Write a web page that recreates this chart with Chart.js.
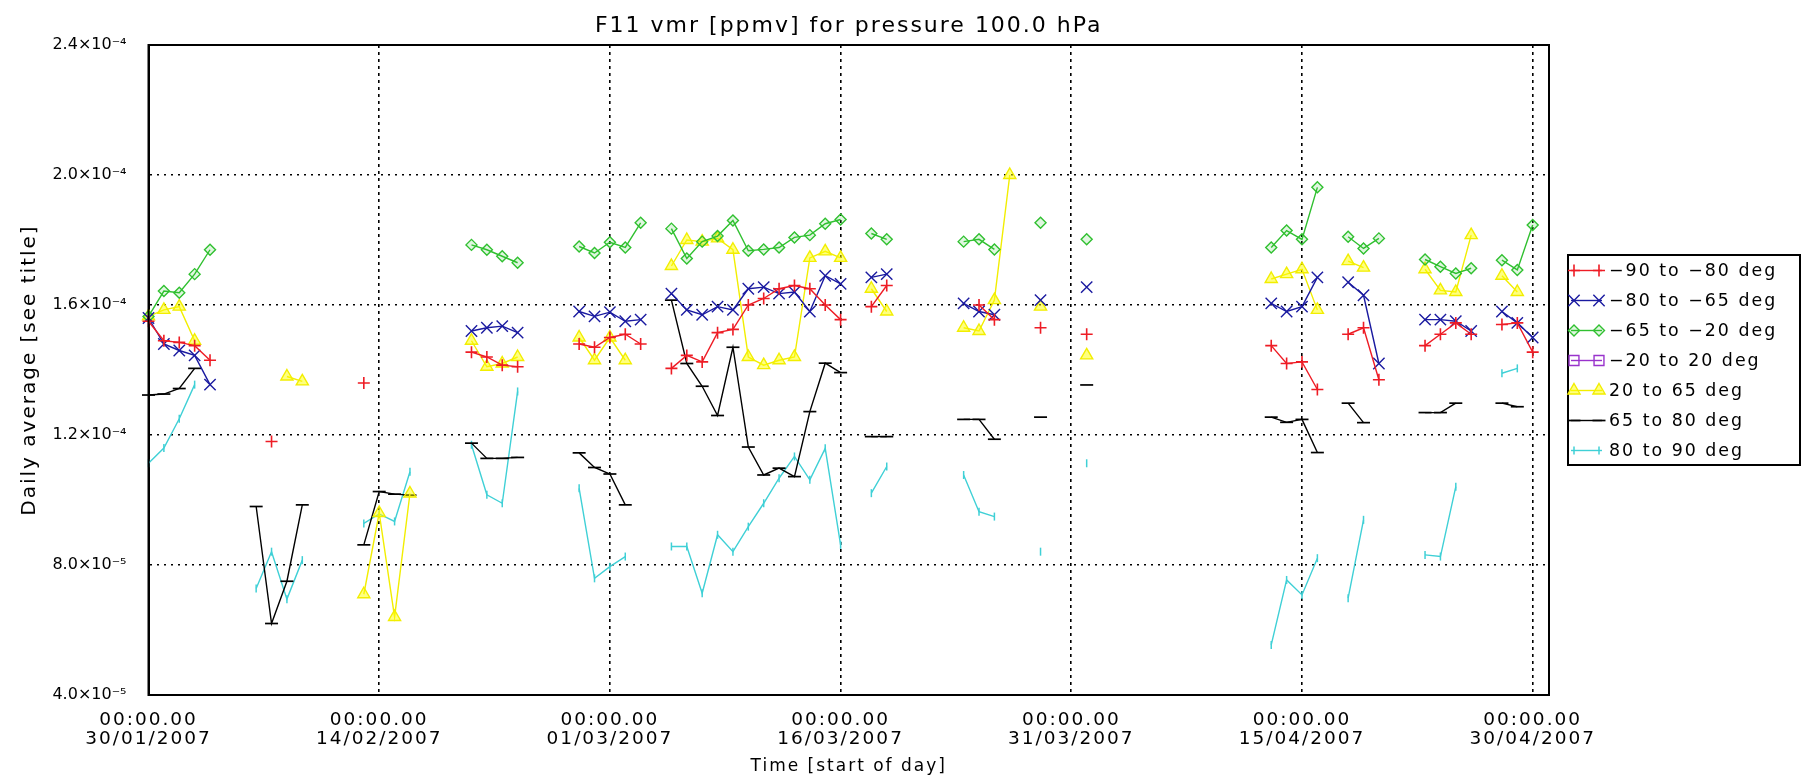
<!DOCTYPE html>
<html><head><meta charset="utf-8">
<script src="https://cdn.jsdelivr.net/npm/chart.js@4.4.0/dist/chart.umd.min.js"></script>
<style>html,body{margin:0;padding:0;background:#fff;overflow:hidden}#wrap{width:1801px;height:782px}</style>
</head><body><div id="wrap"><canvas id="c" width="1801" height="782"></canvas></div>
<script>
// ---- text ----
const titleText = 'F11 vmr [ppmv] for pressure 100.0 hPa';
const yAxisTitle = 'Daily average [see title]';
const xAxisTitle = 'Time [start of day]';
// ---- axes (x: days since 30/01/2007, y: in units of 1e-4 ppmv) ----
const xTickDays = [0, 15, 30, 45, 60, 75, 90];
const xTickLabels = [
  ['00:00.00', '30/01/2007'], ['00:00.00', '14/02/2007'], ['00:00.00', '01/03/2007'],
  ['00:00.00', '16/03/2007'], ['00:00.00', '31/03/2007'], ['00:00.00', '15/04/2007'],
  ['00:00.00', '30/04/2007']
];
const yTickValues = [0.4, 0.8, 1.2, 1.6, 2.0, 2.4];
const yTickLabels = ['4.0×10⁻⁵', '8.0×10⁻⁵', '1.2×10⁻⁴', '1.6×10⁻⁴', '2.0×10⁻⁴', '2.4×10⁻⁴'];
const seriesNames = ['−90 to −80 deg', '−80 to −65 deg', '−65 to −20 deg', '−20 to 20 deg', '20 to 65 deg', '65 to 80 deg', '80 to 90 deg'];

// ---- series: day index + daily average (×1e-4) ----
const daysS90S80 = [0,1,2,3,4, 8, 14, 21,22,23,24, 28,29,30,31,32, 34,35,36,37,38,39,40,41,42,43,44,45, 47,48, 54,55, 58, 61, 73,74,75,76, 78,79,80, 83,84,85,86, 88,89,90];
const valsS90S80 = [1.55,1.49,1.485,1.475,1.43, 1.18, 1.36, 1.455,1.44,1.415,1.41, 1.48,1.47,1.50,1.51,1.48, 1.405,1.445,1.425,1.515,1.525,1.60,1.62,1.65,1.66,1.65,1.60,1.555, 1.595,1.66, 1.60,1.555, 1.53, 1.51, 1.475,1.42,1.425,1.34, 1.51,1.53,1.37, 1.475,1.51,1.545,1.51, 1.54,1.545,1.455];

const daysS80S65 = [0,1,2,3,4, 21,22,23,24, 28,29,30,31,32, 34,35,36,37,38,39,40,41,42,43,44,45, 47,48, 53,54,55, 58, 61, 73,74,75,76, 78,79,80, 83,84,85,86, 88,89,90];
const valsS80S65 = [1.56,1.48,1.46,1.445,1.355, 1.52,1.53,1.535,1.515, 1.58,1.565,1.578,1.55,1.555, 1.635,1.585,1.57,1.595,1.585,1.65,1.655,1.635,1.64,1.58,1.69,1.665, 1.685,1.695, 1.605,1.58,1.57, 1.615, 1.655, 1.605,1.58,1.595,1.685, 1.67,1.63,1.42, 1.555,1.555,1.55,1.52, 1.58,1.545,1.50];

const daysS65S20 = [0,1,2,3,4, 21,22,23,24, 28,29,30,31,32, 34,35,36,37,38,39,40,41,42,43,44,45, 47,48, 53,54,55, 58, 61, 73,74,75,76, 78,79,80, 83,84,85,86, 88,89,90];
const valsS65S20 = [1.565,1.643,1.638,1.695,1.77, 1.785,1.77,1.75,1.73, 1.78,1.76,1.793,1.777,1.853, 1.835,1.743,1.795,1.812,1.86,1.767,1.771,1.777,1.808,1.815,1.85,1.863, 1.82,1.802, 1.795,1.802,1.771, 1.853, 1.802, 1.777,1.829,1.802,1.962, 1.81,1.774,1.805, 1.74,1.718,1.697,1.713, 1.738,1.708,1.846];

const daysS20N20 = [];
const valsS20N20 = [];

const daysN20N65 = [0,1,2,3, 9,10, 14,15,16,17, 21,22,23,24, 28,29,30,31, 34,35,36,37,38,39,40,41,42,43,44,45, 47,48, 53,54,55,56, 58, 61, 73,74,75,76, 78,79, 83,84,85,86, 88,89];
const valsN20N65 = [1.565,1.585,1.595,1.49, 1.38,1.365, 0.71,0.96,0.64,1.02, 1.49,1.41,1.42,1.44, 1.50,1.43,1.50,1.43, 1.72,1.80,1.795,1.805,1.77,1.44,1.415,1.43,1.44,1.745,1.765,1.745, 1.65,1.58, 1.53,1.52,1.615,2.00, 1.595, 1.445, 1.68,1.695,1.71,1.585, 1.735,1.715, 1.71,1.645,1.64,1.815, 1.69,1.64];

const daysN65N80 = [0,1,2,3, 7,8,9,10, 14,15,16,17, 21,22,23,24, 28,29,30,31, 34,35,36,37,38,39,40,41,42,43,44,45, 47,48, 53,54,55, 58, 61, 73,74,75,76, 78,79, 83,84,85, 88,89];
const valsN65N80 = [1.323,1.326,1.343,1.405, 0.98,0.62,0.75,0.985, 0.862,1.026,1.018,1.015, 1.175,1.128,1.128,1.131, 1.145,1.10,1.08,0.985, 1.615,1.42,1.35,1.26,1.47,1.163,1.077,1.098,1.072,1.272,1.421,1.392, 1.195,1.195, 1.248,1.248,1.187, 1.255, 1.354, 1.255,1.239,1.248,1.146, 1.298,1.238, 1.269,1.269,1.298, 1.298,1.287];

const daysN80N90 = [0,1,2,3, 7,8,9,10, 14,15,16,17, 21,22,23,24, 28,29,30,31, 34,35,36,37,38,39,40,41,42,43,44,45, 47,48, 53,54,55, 58, 61, 73,74,75,76, 78,79, 83,84,85, 88,89];
const valsN80N90 = [1.113,1.16,1.25,1.355, 0.728,0.841,0.695,0.815, 0.928,0.957,0.934,1.087, 1.17,1.016,0.99,1.334, 1.036,0.759,0.795,0.826, 0.857,0.857,0.713,0.893,0.841,0.918,0.99,1.067,1.134,1.062,1.159,0.862, 1.021,1.103, 1.077,0.964,0.949, 0.841, 1.113, 0.554,0.754,0.708,0.821, 0.698,0.939, 0.831,0.826,1.041, 1.39,1.405];

// ---- build points, breaking the line where days are missing ----
function toPoints(days, vals) {
  const pts = [];
  days.forEach((d, i) => {
    if (i > 0 && d - days[i - 1] > 1) pts.push({x: (d + days[i - 1]) / 2, y: null});
    pts.push({x: d, y: vals[i]});
  });
  return pts;
}

const FONT = '"DejaVu Sans", sans-serif';
const styles = [
  {color: '#ee1c25', fill: 'rgba(0,0,0,0)', style: 'cross', r: 6, bw: 1.6, rot: 0},
  {color: '#1a1aa0', fill: 'rgba(0,0,0,0)', style: 'crossRot', r: 8, bw: 1.4, rot: 0},
  {color: '#30c030', fill: 'rgba(48,192,48,0.15)', style: 'rectRot', r: 5.5, bw: 1.4, rot: 0},
  {color: '#9933cc', fill: 'rgba(0,0,0,0)', style: 'rect', r: 7, bw: 1.4, rot: 0},
  {color: '#f2ee00', fill: 'rgba(255,255,0,0.5)', style: 'triangle', r: 7, bw: 1.4, rot: 0},
  {color: '#000000', fill: 'rgba(0,0,0,0)', style: 'line', r: 6.5, bw: 1.7, rot: 0},
  {color: '#3fd0d6', fill: 'rgba(0,0,0,0)', style: 'line', r: 4, bw: 1.5, rot: 90}
];
const seriesDays = [daysS90S80, daysS80S65, daysS65S20, daysS20N20, daysN20N65, daysN65N80, daysN80N90];
const seriesVals = [valsS90S80, valsS80S65, valsS65S20, valsS20N20, valsN20N65, valsN65N80, valsN80N90];

const datasets = seriesNames.map((name, i) => ({
  label: name,
  data: toPoints(seriesDays[i], seriesVals[i]),
  borderColor: styles[i].color,
  backgroundColor: styles[i].fill,
  borderWidth: 1.4,
  pointStyle: styles[i].style,
  pointRadius: styles[i].r,
  pointRotation: styles[i].rot,
  pointBorderWidth: styles[i].bw,
  pointBorderColor: styles[i].color,
  pointBackgroundColor: styles[i].fill,
  tension: 0,
  spanGaps: false,
  fill: false,
  clip: false
}));

const spacingPlugin = {
  id: 'spacing',
  beforeDraw(chart) { chart.ctx.letterSpacing = '2px'; },
  afterDatasetsDraw(chart) { chart.ctx.letterSpacing = '0px'; }
};

const framePlugin = {
  id: 'frameLegend',
  afterDraw(chart) {
    const ctx = chart.ctx, a = chart.chartArea;
    ctx.save();
    ctx.setLineDash([]);
    ctx.strokeStyle = '#000';
    ctx.lineWidth = 2;
    ctx.strokeRect(a.left, a.top, a.right - a.left, a.bottom - a.top);
    // legend box
    const lx = a.right + 19, ly = 255, lw = chart.width - lx - 1, rowH = 30;
    ctx.strokeRect(lx, ly, lw, rowH * chart.data.datasets.length);
    ctx.letterSpacing = '2px';
    // size legend text so the longest label spans ~168px like the reference
    ctx.font = '20px ' + FONT;
    const w = ctx.measureText(chart.data.datasets[0].label).width;
    const n = chart.data.datasets[0].label.length;
    const size = Math.max(12, Math.min(22, 20 * (168 - 2 * n) / Math.max(1, w - 2 * n)));
    ctx.font = size.toFixed(1) + 'px ' + FONT;
    ctx.textBaseline = 'middle';
    ctx.textAlign = 'left';
    chart.data.datasets.forEach((ds, i) => {
      const y = ly + 15.5 + rowH * i;
      ctx.strokeStyle = ds.borderColor;
      ctx.lineWidth = ds.borderWidth;
      ctx.beginPath(); ctx.moveTo(lx + 3, y); ctx.lineTo(lx + 34, y); ctx.stroke();
      ctx.fillStyle = ds.pointBackgroundColor;
      ctx.strokeStyle = ds.pointBorderColor;
      ctx.lineWidth = ds.pointBorderWidth;
      const opt = {pointStyle: ds.pointStyle, radius: ds.pointRadius, rotation: ds.pointRotation, borderWidth: ds.pointBorderWidth};
      Chart.helpers.drawPoint(ctx, opt, lx + 6, y);
      Chart.helpers.drawPoint(ctx, opt, lx + 31, y);
      ctx.fillStyle = '#000';
      ctx.fillText(ds.label, lx + 41, y + 1);
    });
    ctx.restore();
  }
};

Chart.defaults.color = '#000';
Chart.defaults.font.family = FONT;

new Chart(document.getElementById('c'), {
  type: 'line',
  data: {datasets},
  plugins: [spacingPlugin, framePlugin],
  options: {
    responsive: false,
    animation: false,
    events: [],
    layout: {padding: {left: 0, right: 252, top: 0, bottom: 0}},
    plugins: {
      legend: {display: false},
      tooltip: {enabled: false},
      title: {
        display: true, text: titleText, fullSize: false,
        font: {family: FONT, size: 22, weight: 'normal'}, color: '#000',
        padding: {top: 13, bottom: 5.6}
      }
    },
    scales: {
      x: {
        type: 'linear', min: 0, max: 91.06,
        afterFit(s) { s.height = 87; },
        afterBuildTicks(s) { s.ticks = xTickDays.map(v => ({value: v})); },
        ticks: {
          autoSkip: false, maxRotation: 0, padding: 16,
          font: {family: FONT, size: 18.5, lineHeight: 1.0}, color: '#000',
          callback: (v) => xTickLabels[xTickDays.indexOf(v)]
        },
        grid: {color: '#000', lineWidth: 1.6, drawTicks: false},
        border: {display: true, color: '#000', width: 2, dash: [3, 4]},
        title: {display: true, text: xAxisTitle, font: {family: FONT, size: 17}, color: '#000', padding: {top: 0, bottom: 5}}
      },
      y: {
        type: 'linear', min: 0.4, max: 2.4,
        afterFit(s) { s.width = 148.5; },
        afterBuildTicks(s) { s.ticks = yTickValues.map(v => ({value: v})); },
        ticks: {
          padding: 22, z: 1,
          font: {family: FONT, size: 16}, color: '#000',
          callback: (v) => yTickLabels[yTickValues.indexOf(v)]
        },
        grid: {color: '#000', lineWidth: 1.5, drawTicks: false},
        border: {display: true, color: '#000', width: 2, dash: [2, 5]},
        title: {display: true, text: yAxisTitle, font: {family: FONT, size: 20}, color: '#000', padding: {top: 18, bottom: 0}}
      }
    }
  }
});
</script></body></html>
